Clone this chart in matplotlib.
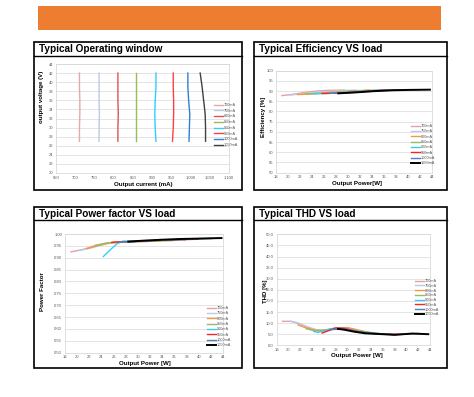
"""Driver test charts: operating window, efficiency, PF and THD vs load."""

import matplotlib

matplotlib.use("Agg")
import matplotlib.pyplot as plt
from matplotlib.patches import Rectangle

plt.rcParams["font.family"] = ["Liberation Sans", "DejaVu Sans"]

W, H = 474, 397

labels = ["700mA", "750mA", "800mA", "850mA", "900mA", "950mA", "1000mA", "1050mA"]

# Operating window: output current (mA) measured at each output voltage
op_voltage = [27, 30, 33, 36, 39, 42]
op_current = [
    [711, 711, 712, 712, 711, 711],
    [762, 762, 763, 762, 762, 762],
    [811, 811, 812, 811, 811, 811],
    [858, 858, 858, 858, 858, 858],
    [910, 908, 907, 908, 910, 910],
    [953, 955, 956, 956, 955, 955],
    [996, 997, 998, 995, 993, 993],
    [1039, 1039, 1038, 1034, 1030, 1025],
]

# Efficiency vs output power
eff_power = [
    [19, 21, 23, 25, 27, 29.4],
    [20.3, 22.5, 25, 27.5, 29.5, 31.5],
    [21.6, 24, 26.5, 29, 31.5, 33.6],
    [23, 25.5, 28, 30.5, 33, 35.7],
    [24.3, 27, 29.5, 32.5, 35, 37.8],
    [25.7, 28.5, 31.5, 34.5, 37, 39.9],
    [27, 30, 33, 36, 39, 42],
    [28.4, 31.5, 34.5, 37.5, 40.5, 43.7],
]
eff_value = [
    [87.8, 88.5, 89.4, 90.1, 90.4, 90.5],
    [88.0, 88.8, 89.5, 90.0, 90.3, 90.5],
    [88.3, 88.6, 89.3, 89.8, 90.2, 90.5],
    [88.6, 88.9, 89.4, 89.9, 90.3, 90.6],
    [88.7, 88.9, 89.5, 90.0, 90.4, 90.7],
    [88.8, 89.0, 89.6, 90.2, 90.5, 90.7],
    [88.9, 89.2, 89.8, 90.3, 90.6, 90.7],
    [88.9, 89.4, 90.0, 90.4, 90.6, 90.7],
]

# Power factor vs output power
pf_power = [
    [19, 21, 23, 25, 27, 29.4],
    [20.3, 22.5, 25, 27.5, 29.5, 31.5],
    [21.6, 23.5, 25.5, 28, 30.5, 33.6],
    [23, 25, 27, 29.5, 32.5, 35.7],
    [24.3, 25.5, 26.5, 27.5, 30, 33, 37.8],
    [25.7, 27, 29, 32, 35.5, 39.9],
    [27, 29, 32, 35, 38.5, 42],
    [28.4, 31, 34, 37, 40.5, 43.7],
]
pf_value = [
    [0.925, 0.935, 0.952, 0.963, 0.967, 0.968],
    [0.930, 0.943, 0.960, 0.966, 0.968, 0.969],
    [0.938, 0.952, 0.963, 0.967, 0.968, 0.970],
    [0.952, 0.962, 0.966, 0.968, 0.970, 0.972],
    [0.905, 0.935, 0.958, 0.970, 0.972, 0.973, 0.975],
    [0.965, 0.967, 0.968, 0.972, 0.975, 0.978],
    [0.966, 0.968, 0.972, 0.976, 0.979, 0.981],
    [0.968, 0.972, 0.976, 0.979, 0.981, 0.983],
]

# THD vs output power
thd_power = [
    [19, 20.5, 22, 24, 26, 28, 29.4],
    [20.3, 21.5, 23, 25, 27, 29, 31.5],
    [21.6, 23, 24.5, 26, 28, 30, 33.6],
    [23, 24, 25, 26.5, 28.5, 31, 35.7],
    [24.3, 25, 26, 27.5, 29.5, 32, 37.8],
    [25.7, 26.5, 28, 29.5, 32, 35, 39.9],
    [27, 28, 29.5, 31, 34, 38, 42],
    [28.4, 29.5, 31, 33, 36, 38, 41, 43.7],
]
thd_value = [
    [10.8, 10.8, 9.5, 7.2, 6.5, 7.5, 7.8],
    [10.8, 10.2, 8.6, 6.8, 7.0, 8.0, 7.0],
    [9.2, 7.8, 6.8, 6.8, 7.8, 8.0, 5.8],
    [7.5, 6.8, 6.4, 7.0, 7.8, 6.8, 5.2],
    [6.2, 5.8, 6.5, 7.6, 7.6, 6.0, 4.8],
    [5.5, 6.3, 7.8, 7.6, 6.0, 5.1, 5.0],
    [7.0, 7.2, 7.3, 6.5, 5.4, 4.8, 5.3],
    [7.4, 7.0, 6.2, 5.4, 5.0, 4.7, 5.3, 5.0],
]

op_colors = ["#e8a8a8", "#b8cce4", "#e05252", "#9bbb59", "#33ccff", "#ff4040", "#2f80d0", "#404040"]
load_colors = ["#e6a0a0", "#b8cce4", "#f79646", "#9bbb59", "#33ccff", "#ff2020", "#4f81bd", "#000000"]

GRID = "#d9d9d9"
TXT = "#595959"


def box(x0, y0, x1, y1):
    return [x0 / W, 1 - y1 / H, (x1 - x0) / W, (y1 - y0) / H]


def frame(fig, x0, y0, x1, y1, **kw):
    fig.add_artist(Rectangle((x0 / W, 1 - y1 / H), (x1 - x0) / W, (y1 - y0) / H,
                             transform=fig.transFigure, **kw))


def style_axes(ax):
    ax.grid(axis="y", color=GRID, lw=0.5)
    ax.set_axisbelow(True)
    for s in ax.spines.values():
        s.set_color(GRID)
        s.set_linewidth(0.6)
    ax.tick_params(length=0, labelsize=3, colors=TXT, pad=2)


def add_legend(fig, ax, x, y, spacing):
    ax.legend(loc="upper left", bbox_to_anchor=(x / W, 1 - y / H),
              bbox_transform=fig.transFigure, frameon=False, fontsize=2.8,
              handlelength=2.2, handletextpad=0.4, labelspacing=spacing,
              borderpad=0, labelcolor=TXT)


fig = plt.figure(figsize=(W / 100, H / 100), dpi=100)

# orange header bar
frame(fig, 38, 6, 441, 30, color="#ed7d31", lw=0)

panels = [
    (33.7, 41.7, 242, 190, 56, "Typical Operating window"),
    (254, 41.7, 447, 190, 56, "Typical Efficiency VS load"),
    (33.7, 206.7, 242, 368, 220.5, "Typical Power factor VS load"),
    (254, 206.7, 447, 368, 220.5, "Typical THD VS load"),
]
for x0, y0, x1, y1, yt, title in panels:
    frame(fig, x0, y0, x1, y1, fill=False, ec="black", lw=1.2)
    fig.add_artist(plt.Line2D([x0 / W, x1 / W], [1 - yt / H, 1 - yt / H],
                              color="black", lw=1.0))
    fig.text((x0 + 5) / W, 1 - ((y0 + yt) / 2 + 0.5) / H, title,
             fontsize=7.2, fontweight="bold", va="center", ha="left")

# operating window
ax = fig.add_axes(box(56, 64, 229, 173))
for cur, c, lab in zip(op_current, op_colors, labels):
    ax.plot(cur, op_voltage, color=c, lw=1.0, label=lab)
ax.set_xlim(650, 1100)
ax.set_ylim(20, 44)
ax.set_xticks(range(650, 1101, 50))
ax.set_xticklabels([f"{v:,}" for v in range(650, 1101, 50)])
ax.set_yticks(range(20, 45, 2))
style_axes(ax)
fig.text(143.7 / W, 1 - 185 / H, "Output current (mA)", fontsize=4.4,
         fontweight="bold", ha="center", va="center")
fig.text(41 / W, 1 - 97 / H, "output voltage (V)", fontsize=4.4,
         fontweight="bold", ha="center", va="center", rotation=90)
add_legend(fig, ax, 212, 101, 0.45)

# efficiency
ax = fig.add_axes(box(276, 70.7, 431.7, 172.7))
for p, v, c, lab in zip(eff_power, eff_value, load_colors, labels):
    ax.plot(p, v, color=c, lw=1.0 if c != "#000000" else 1.4, label=lab)
ax.set_xlim(18, 44)
ax.set_ylim(50, 100)
ax.set_xticks(range(18, 45, 2))
ax.set_yticks(range(50, 101, 5))
style_axes(ax)
fig.text(356.7 / W, 1 - 183 / H, "Output Power[W]", fontsize=4.4,
         fontweight="bold", ha="center", va="center")
fig.text(264 / W, 1 - 117 / H, "Efficiency [%]", fontsize=4.4,
         fontweight="bold", ha="center", va="center", rotation=90)
add_legend(fig, ax, 409, 122, 0.35)

# power factor
ax = fig.add_axes(box(65, 234, 223.3, 352.7))
for p, v, c, lab in zip(pf_power, pf_value, load_colors, labels):
    ax.plot(p, v, color=c, lw=1.0 if c != "#000000" else 1.4, label=lab)
ax.set_xlim(18, 44)
ax.set_ylim(0.5, 1.0)
ax.set_xticks(range(18, 45, 2))
ax.set_yticks([0.5 + 0.05 * i for i in range(11)])
ax.set_yticklabels([f"{0.5 + 0.05 * i:.2f}" for i in range(11)])
style_axes(ax)
fig.text(145 / W, 1 - 363 / H, "Output Power [W]", fontsize=4.4,
         fontweight="bold", ha="center", va="center")
fig.text(43 / W, 1 - 292 / H, "Power Factor", fontsize=4.4,
         fontweight="bold", ha="center", va="center", rotation=90)
add_legend(fig, ax, 205, 304, 0.35)

# THD
ax = fig.add_axes(box(276.7, 234.3, 430, 345.3))
for p, v, c, lab in zip(thd_power, thd_value, load_colors, labels):
    ax.plot(p, v, color=c, lw=1.0 if c != "#000000" else 1.4, label=lab)
ax.set_xlim(18, 44)
ax.set_ylim(0, 50)
ax.set_xticks(range(18, 45, 2))
ax.set_yticks(range(0, 51, 5))
ax.set_yticklabels([f"{v:.1f}" for v in range(0, 51, 5)])
style_axes(ax)
fig.text(356.7 / W, 1 - 355.7 / H, "Output Power [W]", fontsize=4.4,
         fontweight="bold", ha="center", va="center")
fig.text(265 / W, 1 - 291 / H, "THD [%]", fontsize=4.4,
         fontweight="bold", ha="center", va="center", rotation=90)
add_legend(fig, ax, 413, 277, 0.2)

fig.savefig("out.png", dpi=100)
